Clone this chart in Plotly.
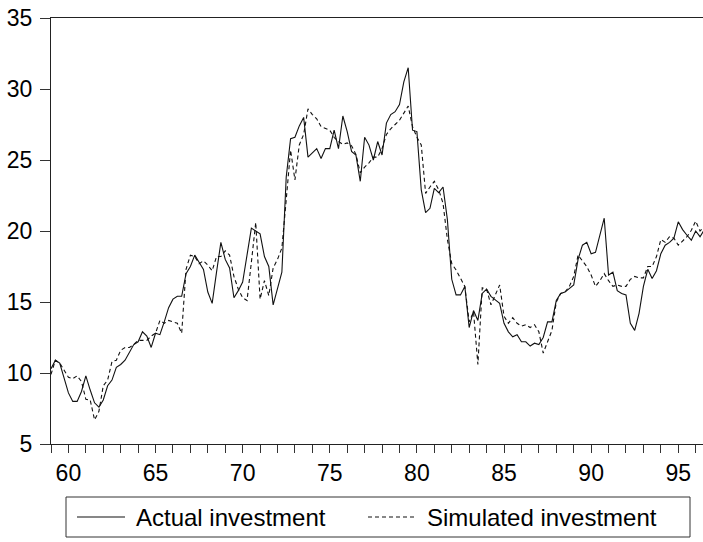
import plotly.graph_objects as go

# Quarterly observations, 1959Q1 .. 1996Q3
start_year = 1959
actual_investment = [
    10.3, 10.9, 10.7, 9.7,     # 1959
    8.6, 8.0, 8.0, 8.7,        # 1960
    9.8, 8.8, 7.9, 7.6,        # 1961
    8.1, 9.1, 9.5, 10.4,       # 1962
    10.6, 10.9, 11.5, 12.0,    # 1963
    12.2, 12.9, 12.6, 11.8,    # 1964
    12.8, 12.7, 13.6, 14.6,    # 1965
    15.2, 15.4, 15.4, 17.0,    # 1966
    17.5, 18.3, 17.8, 17.3,    # 1967
    15.7, 14.9, 17.1, 19.2,    # 1968
    18.0, 17.4, 15.3, 15.8,    # 1969
    16.4, 18.3, 20.2, 20.0,    # 1970
    19.8, 18.2, 17.5, 14.8,    # 1971
    16.0, 17.1, 23.8, 26.5,    # 1972
    26.6, 27.4, 28.0, 25.2,    # 1973
    25.5, 25.8, 25.1, 25.8,    # 1974
    25.8, 27.1, 25.8, 28.1,    # 1975
    27.0, 25.6, 25.35, 23.5,   # 1976
    26.6, 26.05, 25.0, 26.3,   # 1977
    25.35, 27.6, 28.2, 28.4,   # 1978
    28.9, 30.5, 31.5, 27.1,    # 1979
    27.0, 22.9, 21.3, 21.6,    # 1980
    23.0, 22.7, 23.1, 20.8,    # 1981
    16.6, 15.5, 15.5, 16.1,    # 1982
    13.2, 14.4, 13.7, 15.6,    # 1983
    15.9, 15.4, 15.15, 14.9,   # 1984
    13.5, 12.9, 12.55, 12.7,   # 1985
    12.2, 12.2, 11.9, 12.1,    # 1986
    12.0, 12.5, 13.6, 13.6,    # 1987
    15.1, 15.6, 15.7, 15.96,   # 1988
    16.2, 18.0, 19.0, 19.2,    # 1989
    18.4, 18.5, 19.7, 20.9,    # 1990
    16.9, 17.1, 15.8, 15.6,    # 1991
    15.5, 13.5, 13.0, 14.2,    # 1992
    16.1, 17.3, 16.65, 17.2,   # 1993
    18.4, 19.0, 19.2, 19.5,    # 1994
    20.65, 20.1, 19.7, 19.35,  # 1995
    20.0, 19.6, 20.1,          # 1996
]
simulated_investment = [
    9.9, 10.9, 10.7, 10.2,     # 1959
    9.7, 9.6, 9.8, 9.4,        # 1960
    8.15, 8.1, 6.7, 7.3,       # 1961
    9.1, 9.5, 10.8, 10.9,      # 1962
    11.6, 11.8, 11.8, 12.0,    # 1963
    12.3, 12.3, 12.3, 12.6,    # 1964
    12.8, 13.7, 13.5, 13.7,    # 1965
    13.6, 13.5, 12.8, 17.3,    # 1966
    18.3, 18.2, 17.7, 17.9,    # 1967
    17.6, 17.2, 18.2, 18.2,    # 1968
    18.6, 18.3, 16.8, 15.9,    # 1969
    15.3, 15.1, 17.8, 20.6,    # 1970
    15.2, 16.5, 15.45, 17.4,   # 1971
    18.0, 18.8, 22.2, 25.7,    # 1972
    23.6, 26.06, 26.8, 28.6,   # 1973
    28.2, 27.9, 27.35, 27.2,   # 1974
    27.1, 26.6, 26.3, 26.1,    # 1975
    26.2, 26.0, 25.4, 24.1,    # 1976
    24.5, 24.8, 25.2, 25.2,    # 1977
    25.8, 26.8, 27.2, 27.5,    # 1978
    27.8, 28.3, 28.8, 27.35,   # 1979
    26.6, 26.06, 22.65, 23.1,  # 1980
    23.5, 22.9, 21.95, 19.4,   # 1981
    17.7, 17.25, 16.7, 16.1,   # 1982
    13.6, 14.3, 10.6, 16.0,    # 1983
    15.9, 14.8, 15.5, 16.2,    # 1984
    14.0, 13.5, 13.9, 13.5,    # 1985
    13.3, 13.4, 13.2, 13.4,    # 1986
    12.9, 11.4, 12.2, 13.0,    # 1987
    15.0, 15.6, 15.7, 16.1,    # 1988
    16.8, 18.3, 17.9, 17.5,    # 1989
    16.9, 16.1, 16.5, 17.0,    # 1990
    16.5, 16.1, 16.2, 16.1,    # 1991
    16.1, 16.6, 16.8, 16.7,    # 1992
    16.7, 17.5, 17.5, 18.2,    # 1993
    19.4, 19.2, 19.6, 19.5,    # 1994
    19.0, 19.3, 19.6, 20.05,   # 1995
    20.7, 20.0, 20.3,          # 1996
]
tick_years = [60, 65, 70, 75, 80, 85, 90, 95]
tick_labels = [str(y) for y in tick_years]
series_names = ["Actual investment", "Simulated investment"]
series_dash = ["solid", "4px,3px"]

# Time axis in two-digit years, one step per quarter
t = [start_year - 1900 + i / 4 for i in range(len(actual_investment))]

FONT = "Liberation Sans, Arial, Helvetica, sans-serif"
INK = "#111111"

W, H = 703, 542
ML, MR, MT, MB = 51, 0, 18, 98
PW, PH = W - ML - MR, H - MT - MB


def px_x(px):
    """Horizontal pixel position -> paper coordinate."""
    return (px - ML) / PW


def px_y(py):
    """Vertical pixel position (from top) -> paper coordinate."""
    return (H - MB - py) / PH


fig = go.Figure()
for name, values, dash in zip(series_names,
                              [actual_investment, simulated_investment],
                              series_dash):
    fig.add_trace(go.Scatter(
        x=t, y=values, mode="lines", name=name, showlegend=False,
        line=dict(color=INK, width=1.1, dash=dash),
    ))

# Legend panel underneath the plot: framed box, line samples and labels
box_left, box_right, box_top, box_bottom = 66, 690, 497, 537
row_y = (box_top + box_bottom) / 2
shapes = [dict(
    type="rect", xref="paper", yref="paper",
    x0=px_x(box_left), x1=px_x(box_right),
    y0=px_y(box_bottom), y1=px_y(box_top),
    line=dict(color="#333333", width=1), fillcolor="rgba(0,0,0,0)",
)]
annotations = []
sample_starts = [77, 368]
for name, dash, x0 in zip(series_names, series_dash, sample_starts):
    shapes.append(dict(
        type="line", xref="paper", yref="paper",
        x0=px_x(x0), x1=px_x(x0 + 48), y0=px_y(row_y), y1=px_y(row_y),
        line=dict(color=INK, width=1.1, dash=dash),
    ))
    annotations.append(dict(
        xref="paper", yref="paper", x=px_x(x0 + 57), y=px_y(row_y),
        xanchor="left", yanchor="middle", showarrow=False, text=name,
        font=dict(family=FONT, size=24, color="black"),
    ))

fig.update_layout(
    width=W, height=H,
    margin=dict(l=ML, r=MR, t=MT, b=MB, autoexpand=False),
    paper_bgcolor="white", plot_bgcolor="white",
    font=dict(family=FONT, size=23, color="black"),
    showlegend=False,
    shapes=shapes,
    annotations=annotations,
)

fig.update_xaxes(
    range=[59, 96.42],
    tickmode="array", tickvals=tick_years, ticktext=tick_labels,
    ticks="outside", ticklen=8, tickwidth=1, tickcolor="#333333",
    minor=dict(dtick=1, tick0=59, ticks="outside", ticklen=8,
               tickwidth=1, tickcolor="#333333", showgrid=False),
    showline=True, linecolor="#222222", linewidth=1.3, mirror=True,
    showgrid=False, zeroline=False,
    tickfont=dict(family=FONT, size=23, color="black"),
)
fig.update_yaxes(
    range=[5, 35], dtick=5, tick0=5,
    ticks="outside", ticklen=10, tickwidth=1, tickcolor="#333333",
    showline=True, linecolor="#222222", linewidth=1.3,
    showgrid=False, zeroline=False,
    tickfont=dict(family=FONT, size=23, color="black"),
    ticklabelstandoff=3,
)

fig.write_html("out.html")
